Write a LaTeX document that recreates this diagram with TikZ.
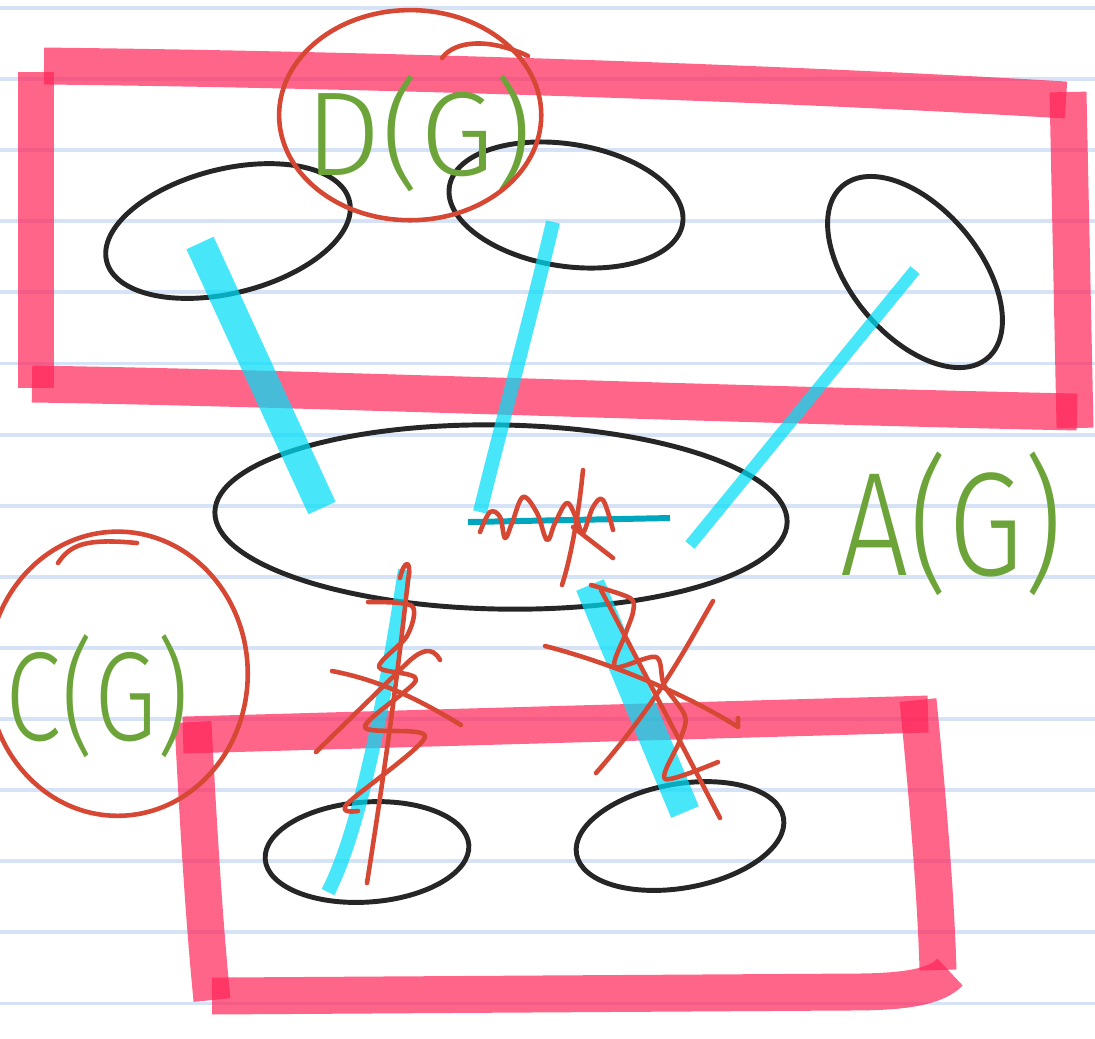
\documentclass[tikz,border=0pt]{standalone}
\usepackage{fontspec}
\usepackage{graphicx}
\IfFontExistsTF{Fira Sans Light}{\newfontfamily\handfont{Fira Sans Light}}{\newfontfamily\handfont{Fira Sans}}
\usetikzlibrary{shapes.geometric}
\definecolor{rulecol}{RGB}{214,227,246}
\definecolor{pen}{RGB}{38,38,38}
\definecolor{hilite}{RGB}{255,36,88}
\definecolor{aqua}{RGB}{0,222,248}
\definecolor{deepaqua}{RGB}{0,165,190}
\definecolor{redpen}{RGB}{214,72,52}
\definecolor{leaf}{RGB}{108,164,58}
\tikzset{
  ruling/.style={line width=1.1pt, draw=rulecol},
  bar/.style={line width=10.5pt, draw=hilite, opacity=0.7},
  blob/.style={ellipse, draw=pen, line width=1.4pt, inner sep=0pt},
  glow/.style={line width=#1, draw=aqua, opacity=0.72},
  glow/.default=4pt,
  scrib/.style={line width=1.3pt, draw=redpen, line cap=round, line join=round},
  hand/.style={text=leaf, inner sep=0pt, anchor=base west},
}

\begin{document}
\begin{tikzpicture}[x=0.01cm, y=-0.01cm]
  \useasboundingbox (0,0) rectangle (1095,1038);
  \fill[white] (0,0) rectangle (1095,1038);
  \foreach \k in {0,...,14} { \draw[ruling] (0,{8+71.1*\k}) -- (1095,{8+71.1*\k}); }
  % the two boxes
  \draw[bar] (44,66) .. controls (400,70) and (800,84) .. (1066,100);
  \draw[bar] (1068,92) -- (1075,428);
  \draw[bar] (1077,412) .. controls (700,404) and (300,388) .. (32,384);
  \draw[bar] (36,72) -- (36,388);
  \draw[bar] (183,735) -- (928,714);
  \draw[bar] (918,700) .. controls (928,800) and (936,900) .. (938,970);
  \draw[bar] (950,972) .. controls (935,988) and (900,992) .. (850,992) -- (212,996);
  \draw[bar] (193,722) .. controls (198,820) and (204,920) .. (212,1000);
  % sets
  \node[blob, minimum width=2.5cm, minimum height=1.24cm, rotate=14] (dl) at (228,231) {};
  \node[blob, minimum width=2.36cm, minimum height=1.22cm, rotate=-9] (dm) at (566,205) {};
  \node[blob, minimum width=2.25cm, minimum height=1.28cm, rotate=-50] (dr) at (915,272) {};
  \node[blob, minimum width=5.72cm, minimum height=1.84cm, rotate=-1] (ac) at (501,517) {};
  \node[blob, minimum width=2.04cm, minimum height=1.0cm, rotate=4] (cl) at (367,852) {};
  \node[blob, minimum width=2.1cm, minimum height=1.04cm, rotate=10] (cr) at (680,836) {};
  % links
  \coordinate (dl-in) at (200,243); \coordinate (ac-a) at (322,508);
  \coordinate (dm-in) at (553,222); \coordinate (ac-b) at (480,512);
  \coordinate (dr-in) at (915,270); \coordinate (ac-c) at (690,545);
  \coordinate (ac-d) at (468,522); \coordinate (ac-e) at (670,518);
  \coordinate (ac-f) at (405,570); \coordinate (cl-in) at (328,892);
  \coordinate (ac-g) at (590,585); \coordinate (cr-in) at (685,812);
  \draw[glow=8.5pt] (dl-in) -- (ac-a);
  \draw[glow=4pt] (dm-in) .. controls (530,320) and (500,430) .. (ac-b);
  \draw[glow=3.4pt] (dr-in) -- (ac-c);
  \draw[line width=1.7pt, draw=deepaqua] (ac-d) -- (ac-e);
  \draw[glow=4pt] (ac-f) .. controls (385,700) and (360,830) .. (cl-in);
  \draw[glow=8.5pt] (ac-g) -- (cr-in);
  % crossings out
  \draw[scrib] plot[smooth, tension=0.6] coordinates {(480,532) (490,512) (500,517) (505,538) (512,523) (523,497) (537,513) (547,540) (555,523) (567,503) (577,520) (583,533) (593,507) (603,500) (613,530)};
  \draw[scrib] (583,470) .. controls (578,520) and (570,560) .. (562,585);
  \draw[scrib] (573,527) -- (613,558);
  \draw[scrib] (400,578) .. controls (404,560) and (412,558) .. (408,580) .. controls (395,700) and (380,800) .. (367,883);
  \draw[scrib] plot[smooth, tension=0.5] coordinates {(368,602) (412,606) (407,636) (379,667) (416,680) (365,727) (425,737) (347,804) (358,811)};
  \draw[scrib] (332,671) .. controls (380,680) and (420,700) .. (461,725);
  \draw[scrib] (440,660) .. controls (432,645) and (420,650) .. (405,665) -- (316,752);
  \draw[scrib] plot[smooth, tension=0.5] coordinates {(591,585) (630,598) (633,612) (625,635) (615,667) (656,657) (664,685) (685,716) (680,740) (665,779) (718,762)};
  \draw[scrib] (601,590) -- (720,818);
  \draw[scrib] (545,646) .. controls (600,660) and (680,690) .. (738,727) -- (738,718);
  \draw[scrib] (713,601) .. controls (690,640) and (660,700) .. (596,773);
  % labels
  \node[hand, font=\handfont\fontsize{34}{34}\selectfont] (dlab) at (305,175) {D(G)};
  \node[hand, font=\handfont\fontsize{42}{42}\selectfont] (alab) at (840,575) {\scalebox{0.82}[1]{A(G)}};
  \node[hand, font=\handfont\fontsize{36}{36}\selectfont] (clab) at (5,740) {\scalebox{0.8}[1]{C(G)}};
  \draw[scrib] (dlab.center) ++(-9,-18) ellipse [x radius=1.31cm, y radius=1.05cm];
  \draw[scrib] (442,58) .. controls (455,40) and (490,38) .. (528,56);
  \draw[scrib] (clab.center) ++(20,-22) ellipse [x radius=1.3cm, y radius=1.42cm];
  \draw[scrib] (58,563) .. controls (70,545) and (85,538) .. (137,543);
\end{tikzpicture}
\end{document}
